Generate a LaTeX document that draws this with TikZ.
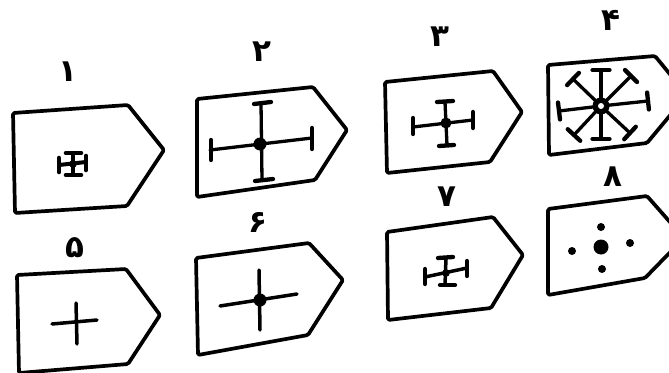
\documentclass[tikz,border=0pt]{standalone}
\usepackage{fontspec}
\usetikzlibrary{calc}
\newfontfamily\pfont[Script=Arabic]{DejaVu Sans}
\newcommand\mytbar[3]{\draw[tbar] ($(#1)!#3!90:(#2)$) -- ($(#1)!#3!-90:(#2)$);}
\begin{document}
\begin{tikzpicture}[x=1pt,y=-1pt,
  outline/.style={line width=3.7pt, line join=round, rounded corners=1.5pt},
  arm/.style={line width=3.3pt, line cap=round},
  tbar/.style={line width=4.3pt, line cap=round},
  lab/.style={font=\pfont\bfseries\fontsize{31}{33}\selectfont, inner sep=0pt}]
\clip (0,0) rectangle (669,372);
\fill[white] (0,0) rectangle (669,372);
% outlines
\draw[outline] (13,113) -- (128,105) -- (164,150) -- (127,206) -- (15,213) -- cycle;
\draw[outline] (197,99) -- (313,87) -- (347,130) -- (315,180) -- (197,197) -- cycle;
\draw[outline] (385,82) -- (493,71) -- (522,112) -- (490,162) -- (387,173) -- cycle;
\draw[outline] (548,65) -- (655,56) -- (687,95) -- (647,143) -- (549,155) -- cycle;
\draw[outline] (17,275) -- (126,269) -- (160,315) -- (128,364) -- (19,373) -- cycle;
\draw[outline] (196,258) -- (309,243) -- (343,280) -- (308,335) -- (198,355) -- cycle;
\draw[outline] (387,232) -- (493,217) -- (523,255) -- (491,308) -- (388,320) -- cycle;
\draw[outline] (548,209) -- (647,196) -- (684,238) -- (645,278) -- (548,295) -- cycle;
% labels
\node[lab] (l1) at (68,72) {۱};
\node[lab] (l2) at (262,52) {۲};
\node[lab] (l3) at (440,37) {۳};
\node[lab] (l4) at (611,20) {۴};
\node[lab] (l5) at (75,248) {۵};
\node[lab] (l6) at (258,222) {۶};
\node[lab] (l7) at (447,197) {۷};
\node[lab] (l8) at (613,177) {۸};
% symbol 1
\draw[arm, line width=4pt] (59,165) -- (86,162);
\draw[arm, line width=4pt] (73,153) -- (73,175);
\fill (73,164) circle[radius=3.8pt];
\draw[tbar, line width=4.6pt] (59,158) -- (59,172);
\draw[tbar, line width=4.6pt] (86,156) -- (86,170);
\draw[tbar, line width=4.6pt] (66,153) -- (81,153);
\draw[tbar, line width=4.6pt] (66,175) -- (81,175);
% symbol 2
\draw[arm] (210,150) -- (312,138);
\draw[arm] (261,103) -- (262,180);
\fill (260,144) circle[radius=6.5pt];
\draw[tbar] (211,140) -- (211,160);
\draw[tbar] (312,128) -- (312,149);
\draw[tbar] (254,104) -- (271,102);
\draw[tbar] (255,181) -- (273,179);
% symbol 3
\draw[arm] (413,127) -- (473,120);
\draw[arm] (445,102) -- (447,145);
\fill (446,123) circle[radius=5.5pt];
\draw[tbar] (413,118) -- (413,134);
\draw[tbar] (473,112) -- (473,128);
\draw[tbar] (437,102) -- (453,101);
\draw[tbar] (439,146) -- (454,145);
% symbol 4
\coordinate (c4) at (601,106);
\foreach \ex/\ey [count=\i] in {559/111, 648/101, 601/70, 601/139, 573/79, 631/76, 574/135, 630/133} {
  \coordinate (e4\i) at (\ex,\ey);
  \draw[arm] (c4) -- (e4\i);
  \mytbar{e4\i}{c4}{8.5pt}
}
\fill (c4) circle[radius=8.5pt];
\fill[white] (c4) circle[radius=3pt];
% symbol 5
\draw[arm, line width=3.5pt] (52,324) -- (97,320);
\draw[arm, line width=3.5pt] (76,303) -- (77,344);
% symbol 6
\draw[arm, line width=3.5pt] (220,306) -- (297,294);
\draw[arm, line width=3.5pt] (259,270) -- (260,330);
\fill (260,300) circle[radius=6.5pt];
% symbol 7
\draw[arm, line width=3.5pt] (425,277) -- (467,268);
\draw[arm, line width=3.5pt] (446,258) -- (445,285);
\fill (446,273) circle[radius=3.8pt];
\draw[tbar] (425,269) -- (425,284);
\draw[tbar] (467,261) -- (467,276);
\draw[tbar] (438,258) -- (453,257);
\draw[tbar] (440,285) -- (455,285);
% symbol 8
\fill (601,247) circle[radius=7.5pt];
\fill (601,227) circle[radius=4pt];
\fill (602,269) circle[radius=4pt];
\fill (572,251) circle[radius=4pt];
\fill (630,243) circle[radius=4pt];
\end{tikzpicture}
\end{document}
